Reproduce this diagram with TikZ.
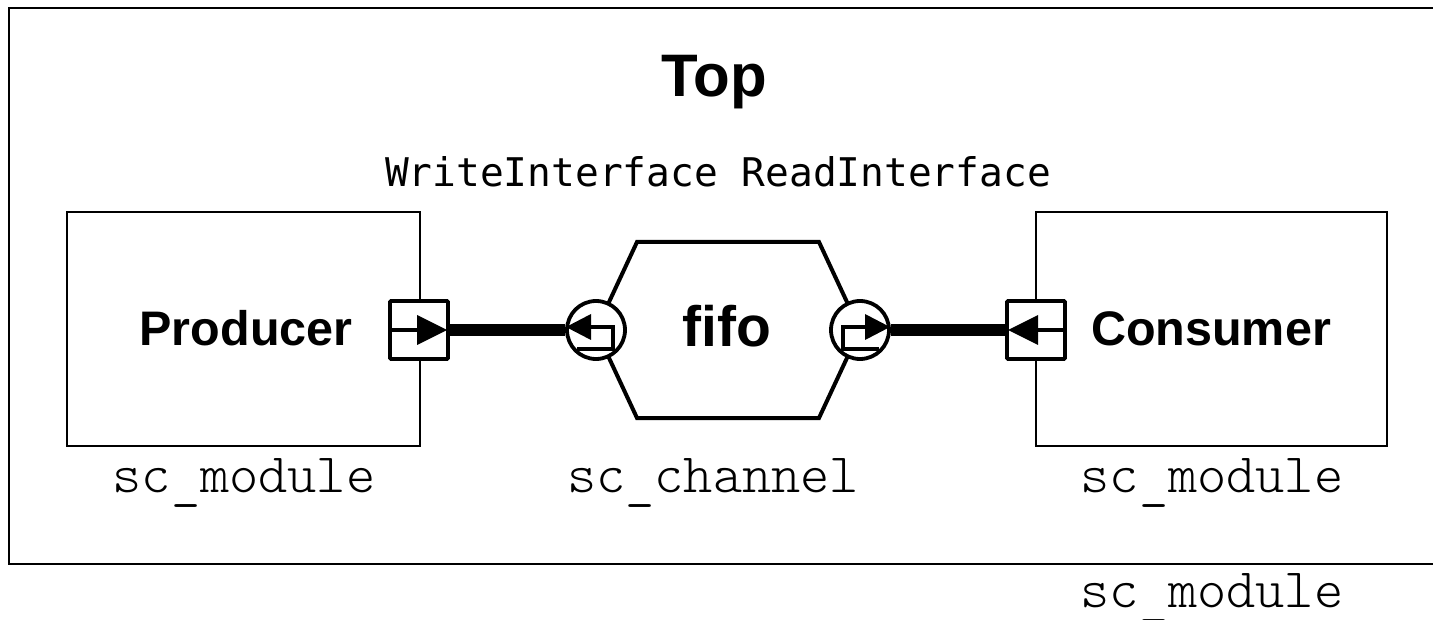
\documentclass[tikz,border=0pt]{standalone}
\usepackage{fontspec}
\setmainfont{Liberation Sans}
\newfontfamily\ifacefont{DejaVu Sans Mono}
\newfontfamily\typefont{lmmonolt10-regular.otf}
\newcommand{\lowbar}{\raisebox{-0.1em}{\_}}
\begin{document}
\begin{tikzpicture}[x=1pt,y=-1pt,
  modbox/.style={draw, line width=2.2pt, inner sep=0pt},
  boldlbl/.style={anchor=base, inner sep=0pt, font=\fontsize{#1}{#1}\selectfont\bfseries},
  typelbl/.style={anchor=base, inner sep=0pt, font=\fontsize{55.6}{55.6}\selectfont\typefont},
  portsq/.style={draw, fill=white, line width=3.8pt, rounded corners=1pt, minimum size=58pt, inner sep=0pt},
  portci/.style={draw, fill=white, circle, line width=3.8pt, minimum size=58pt, inner sep=0pt},
  inner/.style={line width=3.4pt},
  tip/.style={fill=black},
  link/.style={line width=12pt}
]
\useasboundingbox (0,0) rectangle (1433,620);

% enclosing module
\draw[line width=2.4pt] (9,8) coordinate (topNW) rectangle (1460,564) coordinate (topSE);
\node[boldlbl=60] (toplbl) at (714,97) {Top};
\node[anchor=base, inner sep=0pt, font=\fontsize{39.5}{39.5}\selectfont\ifacefont] (iface) at (718,187) {WriteInterface ReadInterface};

% producer and consumer modules
\node[modbox, minimum width=353pt, minimum height=234pt] (prod) at (243.5,329) {};
\node[modbox, minimum width=351pt, minimum height=234pt] (cons) at (1211.5,329) {};
\node[boldlbl=48.5] (prodlbl) at (246,345) {Producer};
\node[boldlbl=48.5] (conslbl) at (1211,345) {Consumer};

% fifo channel
\draw[line width=4pt, line join=miter] (596,330) coordinate (hexW) -- (637,242) -- (819,242)
  -- (860,330) coordinate (hexE) -- (819,418) -- (637,418) -- cycle;
\node[boldlbl=57] (fifolbl) at (727,347) {fifo};

% type names
\node[typelbl] (prodtype) at (244,492) {sc\lowbar module};
\node[typelbl] (chantype) at (713,492) {sc\lowbar channel};
\node[typelbl] (constype) at (1212,492) {sc\lowbar module};
\node[typelbl] (toptype) at (1212,607) {sc\lowbar module};

% ports
\node[portsq] (pport) at (419,330) {};
\node[portsq] (cport) at (1036,330) {};
\node[portci] (lexp) at (596,330) {};
\node[portci] (rexp) at (860,330) {};

% port symbols
\draw[inner] (pport.west) -- (417,330);
\fill[tip] (417,315) -- (447,330) -- (417,345) -- cycle;
\draw[inner] (cport.east) -- (1038,330);
\fill[tip] (1038,315) -- (1008,330) -- (1038,345) -- cycle;
\draw[inner] (577,349) -- (613,349) -- (613,327) -- (590,327);
\fill[tip] (591,314) -- (566,327) -- (591,340) -- cycle;
\draw[inner] (879,349) -- (843,349) -- (843,327) -- (866,327);
\fill[tip] (865,314) -- (890,327) -- (865,340) -- cycle;

% bindings
\draw[link] (pport.east) -- (lexp.west);
\draw[link] (rexp.east) -- (cport.west);
\end{tikzpicture}
\end{document}
